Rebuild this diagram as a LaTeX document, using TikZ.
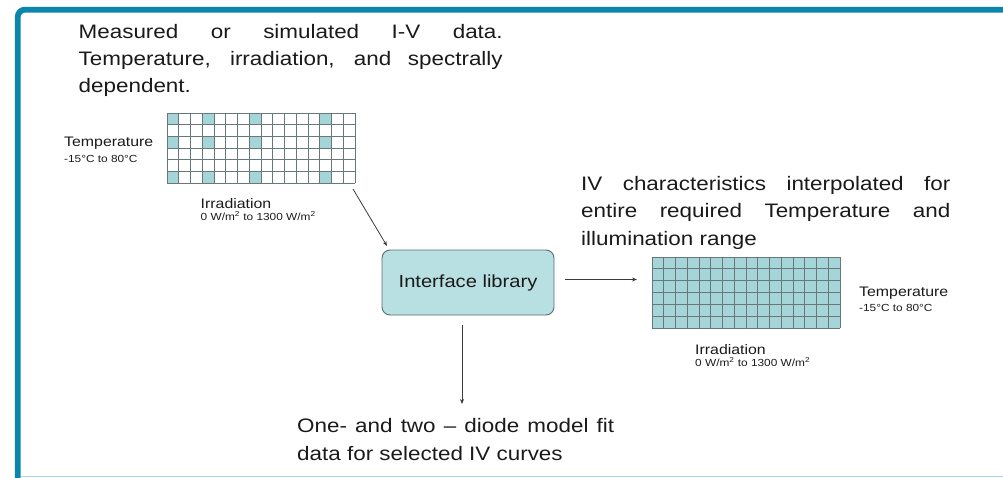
\documentclass[tikz,border=0pt]{standalone}
\usepackage{fontspec}
\setmainfont{Liberation Sans}
\usetikzlibrary{arrows.meta,calc}
\definecolor{bordercol}{HTML}{0A86AD}
\definecolor{bottomcol}{HTML}{A3D9E3}
\definecolor{cellcol}{HTML}{A6D5D9}
\definecolor{boxfill}{HTML}{B8DFE2}
\definecolor{boxdraw}{HTML}{5A6E70}
\definecolor{gridcol}{HTML}{66787A}
\definecolor{txt}{HTML}{1A1A1A}
\definecolor{arrcol}{HTML}{3A3A3A}
\newcommand{\hx}[1]{\scalebox{1.15}[1]{#1}}
\newcommand{\bigtxt}{\fontsize{19.5}{27}\selectfont}
\newcommand{\midtxt}{\fontsize{13.8}{16}\selectfont}
\newcommand{\smalltxt}{\fontsize{10.3}{12}\selectfont}
\tikzset{
  lbl/.style={anchor=base west, inner sep=0pt, text=txt},
  gridbox/.style={anchor=north west, inner sep=0pt, minimum width=188pt, minimum height=70pt},
  gline/.style={draw=gridcol, line width=0.9pt},
  arr/.style={draw=arrcol, line width=0.8pt, -{Stealth[length=5pt,width=4pt]}},
  libbox/.style={draw=boxdraw, line width=0.9pt, fill=boxfill, rounded corners=8pt,
    minimum width=172pt, minimum height=65pt, inner sep=0pt, text=txt}
}
\begin{document}
\begin{tikzpicture}[x=1pt,y=-1pt]
\useasboundingbox (0,0) rectangle (1003,477);
% frame
\begin{scope}
\clip (0,0) rectangle (1003,477);
\draw[bordercol, line width=5.8pt, rounded corners=7pt] (1010,9.7) -- (17.8,9.7) -- (17.8,485);
\draw[bottomcol, line width=1.5pt] (20.7,476.3) -- (1003,476.3);
\end{scope}

% text block 1
\node[lbl] (t1a) at (78.5,38.3) {\hx{\bigtxt\makebox[368.7pt][s]{Measured or simulated I-V data.}}};
\node[lbl] (t1b) at (78.5,65.3) {\hx{\bigtxt\makebox[368.7pt][s]{Temperature, irradiation, and spectrally}}};
\node[lbl] (t1c) at (78.5,92.3) {\hx{\bigtxt dependent.}};

% left grid
\node[gridbox] (gridL) at (167,113) {};
\begin{scope}[shift={(gridL.north west)}]
  \foreach \c in {0,3,7,13} \foreach \r in {0,2,5}
    \fill[cellcol] (\c*11.75,\r*11.667) rectangle ++(11.75,11.667);
  \foreach \i in {0,...,16} \draw[gline] (\i*11.75,0) -- (\i*11.75,70);
  \foreach \j in {0,...,6} \draw[gline] (0,\j*11.667) -- (188,\j*11.667);
\end{scope}
\node[lbl] (tempL) at (64,146) {\hx{\midtxt Temperature}};
\node[lbl] (trangeL) at (64,162) {\hx{\smalltxt -15°C to 80°C}};
\node[lbl] (irrL) at (200.5,208.3) {\hx{\midtxt Irradiation}};
\node[lbl] (irangeL) at (200.5,220.5) {\hx{\smalltxt 0 W/m\textsuperscript{2} to 1300 W/m\textsuperscript{2}}};

% interface library box
\node[libbox] (box) at (468,282.5) {\hx{\fontsize{17.5}{20}\selectfont Interface library}};

% right text block
\node[lbl] (t2a) at (581,190) {\hx{\bigtxt\makebox[321pt][s]{IV characteristics interpolated for}}};
\node[lbl] (t2b) at (581,217.5) {\hx{\bigtxt\makebox[321pt][s]{entire required Temperature and}}};
\node[lbl] (t2c) at (581,245) {\hx{\bigtxt illumination range}};

% right grid
\node[gridbox, minimum height=71pt] (gridR) at (652,257) {};
\begin{scope}[shift={(gridR.north west)}]
  \fill[cellcol] (0,0) rectangle (188,71);
  \foreach \i in {0,...,16} \draw[gline] (\i*11.75,0) -- (\i*11.75,71);
  \foreach \j in {0,...,6} \draw[gline] (0,\j*11.833) -- (188,\j*11.833);
\end{scope}
\node[lbl] (tempR) at (859,296) {\hx{\midtxt Temperature}};
\node[lbl] (trangeR) at (859,311.5) {\hx{\smalltxt -15°C to 80°C}};
\node[lbl] (irrR) at (695,354) {\hx{\midtxt Irradiation}};
\node[lbl] (irangeR) at (695,366.5) {\hx{\smalltxt 0 W/m\textsuperscript{2} to 1300 W/m\textsuperscript{2}}};

% bottom text block
\node[lbl] (t3a) at (297,432) {\hx{\bigtxt\makebox[275.6pt][s]{One- and two – diode model fit}}};
\node[lbl] (t3b) at (297,460) {\hx{\bigtxt data for selected IV curves}};

% connectors
\coordinate (d1) at (353,189);
\coordinate (d2) at (387,246);
\draw[arr] (d1) -- (d2);
\draw[arr, shorten <=11pt, shorten >=15pt] ([yshift=3pt]box.east) -- ([yshift=3pt]box.east -| gridR.west);
\coordinate (dtop) at (462,325);
\coordinate (dbot) at (462,404);
\draw[arr] (dtop) -- (dbot);
\end{tikzpicture}
\end{document}
